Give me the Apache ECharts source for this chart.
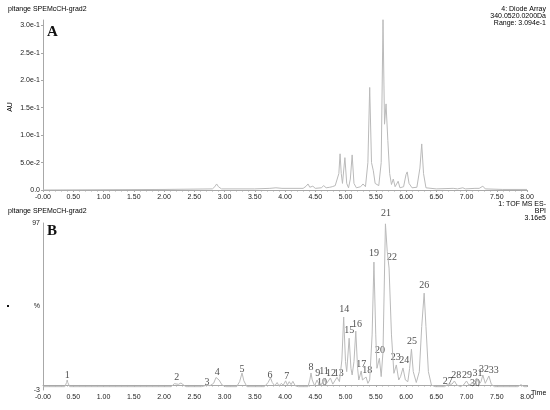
<!DOCTYPE html>
<html lang="en">
  <head>
    <meta charset="UTF-8" />
    <title>Chromatogram</title>
    <script src="https://cdn.jsdelivr.net/npm/echarts@6/dist/echarts.min.js"></script>
    <style>
      html, body { margin: 0; padding: 0; background: #fff; }
      #main { width: 550px; height: 410px; }
    </style>
  </head>
  <body>
    <div id="main"></div>
    <script>
      // tick labels
      var timeTicks = ["-0.00", "0.50", "1.00", "1.50", "2.00", "2.50", "3.00", "3.50", "4.00",
        "4.50", "5.00", "5.50", "6.00", "6.50", "7.00", "7.50", "8.00"];
      var auTicks = ["0.0", "5.0e-2", "1.0e-1", "1.5e-1", "2.0e-1", "2.5e-1", "3.0e-1"];
      var pctTicks = ["-3", "%", "97"];

      // A: diode array trace [time, AU]
      var traceA = [
        [0, 0], [2.0, 0.001], [2.80, 0.002], [2.84, 0.006], [2.87, 0.011], [2.90, 0.006], [2.95, 0.002],
        [3.5, 0.002], [3.75, 0.003], [3.85, 0.004], [3.95, 0.003], [4.30, 0.003], [4.35, 0.007],
        [4.38, 0.011], [4.41, 0.005], [4.46, 0.007], [4.50, 0.003], [4.60, 0.004], [4.64, 0.008],
        [4.68, 0.004], [4.74, 0.005], [4.78, 0.006], [4.80, 0.005], [4.83, 0.008], [4.86, 0.007],
        [4.89, 0.03], [4.91, 0.066], [4.93, 0.03], [4.95, 0.012], [4.99, 0.059], [5.02, 0.012],
        [5.05, 0.004], [5.08, 0.02], [5.11, 0.064], [5.14, 0.012], [5.18, 0.004], [5.25, 0.006],
        [5.29, 0.011], [5.33, 0.006], [5.37, 0.05], [5.40, 0.187], [5.43, 0.05], [5.46, 0.035],
        [5.49, 0.012], [5.55, 0.008], [5.59, 0.05], [5.62, 0.311], [5.645, 0.12], [5.67, 0.157],
        [5.70, 0.09], [5.73, 0.03], [5.76, 0.01], [5.79, 0.02], [5.82, 0.006], [5.87, 0.016],
        [5.90, 0.004], [5.96, 0.006], [6.00, 0.028], [6.02, 0.033], [6.05, 0.012], [6.10, 0.004],
        [6.18, 0.005], [6.23, 0.04], [6.26, 0.084], [6.29, 0.03], [6.33, 0.004], [6.50, 0.002],
        [6.78, 0.003], [6.81, 0.005], [6.85, 0.002], [6.94, 0.004], [6.98, 0.002], [7.14, 0.003],
        [7.17, 0.005], [7.21, 0.003], [7.27, 0.007], [7.31, 0.002], [7.6, 0.001], [8.0, 0.001]
      ];

      // B: TOF MS BPI trace [time, %]
      var traceB = [
        [0, -1], [0.36, -1], [0.39, 1.5], [0.40, 3], [0.41, 1.5], [0.44, -1],
        [2.12, -1], [2.17, 0.8], [2.20, 1.6], [2.24, 0.4], [2.28, 1.2], [2.31, 0.2], [2.36, -1],
        [2.62, -1], [2.70, -0.2], [2.73, 0], [2.76, -0.4],
        [2.82, 1], [2.86, 4.5], [2.88, 5.4], [2.91, 3], [2.96, 0], [3.02, -1],
        [3.20, -1], [3.25, 2], [3.29, 7.2], [3.32, 2.5], [3.37, -1],
        [3.66, -1], [3.72, 1.5], [3.76, 4.2], [3.79, 1.5], [3.83, -0.5], [3.87, 1.5], [3.90, -0.5],
        [3.94, 1], [3.97, -0.2], [4.01, 2.5], [4.04, 0], [4.07, 2], [4.10, 0.2], [4.13, 2.2],
        [4.17, -0.5], [4.22, -1],
        [4.38, -1], [4.41, 3], [4.43, 7.2], [4.45, 3], [4.49, -0.5],
        [4.53, 3], [4.56, 0.5], [4.59, 1.2], [4.61, 0.6], [4.64, 4.2], [4.68, 0.5], [4.71, 1],
        [4.75, 4.2], [4.79, 0.5], [4.82, 1.2], [4.86, 4.6], [4.90, 2],
        [4.94, 15], [4.97, 40.7], [5.00, 14], [5.02, 8], [5.06, 28], [5.09, 10], [5.11, 6],
        [5.14, 14], [5.17, 32.3], [5.20, 10], [5.22, 3], [5.26, 8.4], [5.28, 3], [5.30, 2],
        [5.34, 4.8], [5.37, 1],
        [5.40, 3], [5.44, 30], [5.47, 73.6], [5.50, 30], [5.52, 10], [5.56, 16], [5.59, 5],
        [5.62, 20], [5.66, 96.5], [5.69, 80], [5.72, 70], [5.76, 30], [5.80, 7], [5.84, 12],
        [5.88, 3], [5.91, 5], [5.95, 10.2], [5.99, 3], [6.03, 2], [6.06, 10], [6.09, 21.5],
        [6.12, 8], [6.17, 1.5], [6.22, 8], [6.26, 35], [6.30, 55], [6.33, 35], [6.37, 8],
        [6.42, 0], [6.48, -1],
        [6.64, -1], [6.69, 0.5], [6.72, -0.5], [6.76, 0.5], [6.80, 2.4], [6.84, 0], [6.90, -1],
        [6.95, 0], [7.00, 2.4], [7.04, 0], [7.07, -0.5], [7.10, 1], [7.13, 0], [7.17, 4.2],
        [7.21, 0.5], [7.24, 2], [7.27, 6], [7.31, 1], [7.34, 2], [7.37, 5.4], [7.41, 0.5],
        [7.46, -1], [7.85, -1], [7.90, 0.2], [7.95, -1], [8.0, -1]
      ];

      // peak numbers and where their labels sit [time, %]
      var peakNo = ["1", "2", "3", "4", "5", "6", "7", "8", "9", "10", "11", "12", "13", "14", "15",
        "16", "17", "18", "19", "20", "21", "22", "23", "24", "25", "26", "27", "28", "29", "30",
        "31", "32", "33"];
      var peakLabelTime = [0.40, 2.21, 2.71, 2.88, 3.29, 3.75, 4.03, 4.43, 4.54, 4.61, 4.645, 4.76,
        4.89, 4.98, 5.06, 5.19, 5.26, 5.36, 5.47, 5.57, 5.67, 5.77, 5.83, 5.97, 6.10, 6.30, 6.69,
        6.83, 7.01, 7.14, 7.18, 7.29, 7.45];
      var peakLabelPct = [6.0, 4.8, 1.8, 7.8, 9.6, 6.0, 5.4, 10.8, 7.2, 1.8, 8.4, 7.2, 7.2, 45.5,
        32.9, 36.5, 12.6, 9.0, 79, 21, 103, 76.6, 16.8, 15, 26.3, 59.9, 2.4, 6.0, 6.0, 1.2, 7.2,
        9.6, 9.0];

      var lineColor = "#bababa";
      var axisColor = "#a8a8a8";
      var smallFont = { fontFamily: "Liberation Sans Narrow, Liberation Sans, Arial", fontSize: 7, color: "#222" };

      function timeAxis(grid) {
        return {
          type: "value", gridIndex: grid, min: 0, max: 8, interval: 0.5,
          axisLine: { lineStyle: { color: axisColor } },
          axisTick: { length: 2, lineStyle: { color: axisColor } },
          minorTick: { show: true, splitNumber: 5, length: 1.5, lineStyle: { color: axisColor } },
          splitLine: { show: false },
          axisLabel: Object.assign({ margin: 4, formatter: function (v, i) { return timeTicks[i]; } }, smallFont)
        };
      }

      var labelData = peakNo.map(function (n, i) {
        return { value: [peakLabelTime[i], peakLabelPct[i]], name: n };
      });

      var myChart = echarts.init(document.getElementById("main"));
      var option = {
        animation: false,
        grid: [
          { left: 43, right: 23, top: 20, bottom: 220 },
          { left: 43, right: 23, top: 223, bottom: 20 }
        ],
        xAxis: [timeAxis(0), timeAxis(1)],
        yAxis: [
          {
            type: "value", gridIndex: 0, min: 0, max: 0.31, interval: 0.05,
            axisLine: { show: true, lineStyle: { color: axisColor } },
            axisTick: { show: true, length: 2, lineStyle: { color: axisColor } },
            splitLine: { show: false },
            axisLabel: Object.assign({ margin: 3, showMaxLabel: false, formatter: function (v, i) { return auTicks[i] || ""; } }, smallFont)
          },
          {
            type: "value", gridIndex: 1, min: -3, max: 97, interval: 50,
            axisLine: { show: true, lineStyle: { color: axisColor } },
            axisTick: { show: false },
            splitLine: { show: false },
            axisLabel: Object.assign({ margin: 3, formatter: function (v, i) { return pctTicks[i]; } }, smallFont)
          }
        ],
        series: [
          {
            type: "line", xAxisIndex: 0, yAxisIndex: 0, data: traceA, showSymbol: false,
            silent: true, lineStyle: { color: lineColor, width: 1 }
          },
          {
            type: "line", xAxisIndex: 1, yAxisIndex: 1, data: traceB, showSymbol: false,
            silent: true, lineStyle: { color: lineColor, width: 1 }
          },
          {
            type: "scatter", xAxisIndex: 1, yAxisIndex: 1, data: labelData, symbolSize: 0.1,
            silent: true, clip: false, itemStyle: { color: "rgba(0,0,0,0)" },
            label: {
              show: true, position: "inside", formatter: "{b}",
              fontFamily: "Liberation Serif, Times New Roman, serif", fontSize: 10, color: "#1a1a1a"
            }
          }
        ],
        graphic: [
          { type: "text", left: 8, top: 6, style: Object.assign({ text: "pltange SPEMcCH-grad2" }, smallFont) },
          { type: "text", right: 4, top: 6, style: Object.assign({ text: "4: Diode Array", textAlign: "right" }, smallFont) },
          { type: "text", right: 4, top: 13, style: Object.assign({ text: "340.0520.0200Da", textAlign: "right" }, smallFont) },
          { type: "text", right: 4, top: 20, style: Object.assign({ text: "Range: 3.094e-1", textAlign: "right" }, smallFont) },
          { type: "text", left: 47, top: 25, style: { text: "A", fontFamily: "Liberation Serif, serif", fontWeight: "bold", fontSize: 15, fill: "#111" } },
          { type: "text", x: 10, y: 107, rotation: Math.PI / 2, style: Object.assign({ text: "AU", textAlign: "center", textVerticalAlign: "middle" }, smallFont) },
          { type: "text", left: 8, top: 208, style: Object.assign({ text: "pltange SPEMcCH-grad2" }, smallFont) },
          { type: "text", right: 4, top: 201, style: Object.assign({ text: "1: TOF MS ES-", textAlign: "right" }, smallFont) },
          { type: "text", right: 4, top: 208, style: Object.assign({ text: "BPI", textAlign: "right" }, smallFont) },
          { type: "text", right: 4, top: 215, style: Object.assign({ text: "3.16e5", textAlign: "right" }, smallFont) },
          { type: "text", left: 47, top: 224, style: { text: "B", fontFamily: "Liberation Serif, serif", fontWeight: "bold", fontSize: 15, fill: "#111" } },
          { type: "rect", shape: { x: 7, y: 305, width: 2, height: 2 }, style: { fill: "#111" } },
          { type: "text", left: 531, top: 390, style: Object.assign({ text: "Time" }, smallFont) }
        ]
      };
      myChart.setOption(option);
    </script>
  </body>
</html>
